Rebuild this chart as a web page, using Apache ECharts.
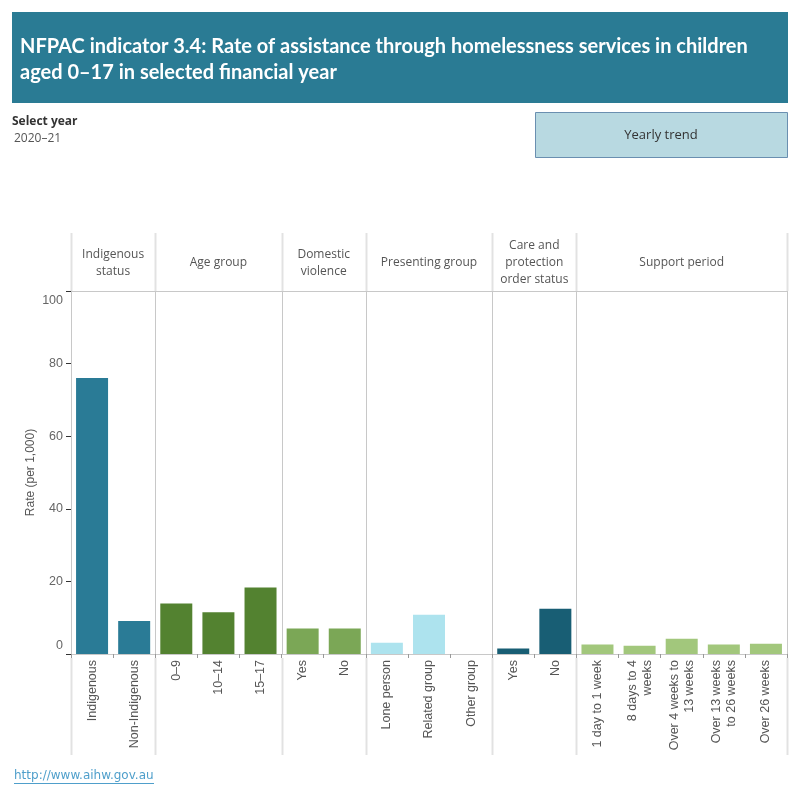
<!DOCTYPE html>
<html>
<head>
<meta charset="utf-8">
<script src="https://cdn.jsdelivr.net/npm/echarts@6/dist/echarts.min.js"></script>
<style>
  html, body { margin: 0; padding: 0; background: #fff; }
  #chart { width: 800px; height: 800px; }
</style>
</head>
<body>
<div id="chart"></div>
<script>
// group headers, categories and rates (per 1,000), 2020-21
var groupNames = ['Indigenous\nstatus', 'Age group', 'Domestic\nviolence', 'Presenting group', 'Care and\nprotection\norder status', 'Support period']
var groupColors = ['#2a7b96', '#538230', '#7ba756', '#ade3ee', '#185e74', '#a2c77c']

var indigenousCats = ['Indigenous', 'Non-Indigenous']
var indigenousVals = [76, 9.1]
var ageCats = ['0\u20139', '10\u201314', '15\u201317']
var ageVals = [13.9, 11.5, 18.3]
var dvCats = ['Yes', 'No']
var dvVals = [7.0, 7.0]
var presentingCats = ['Lone person', 'Related group', 'Other group']
var presentingVals = [3.1, 10.8, 0]
var careCats = ['Yes', 'No']
var careVals = [1.5, 12.5]
var supportCats = ['1 day to 1 week', '8 days to 4\nweeks', 'Over 4 weeks to\n13 weeks', 'Over 13 weeks\nto 26 weeks', 'Over 26 weeks']
var supportVals = [2.6, 2.3, 4.2, 2.6, 2.8]

var yTicks = [0, 20, 40, 60, 80, 100]

var groupCats = [indigenousCats, ageCats, dvCats, presentingCats, careCats, supportCats]
var groupVals = [indigenousVals, ageVals, dvVals, presentingVals, careVals, supportVals]

// layout
var plotLeft = 71, plotRight = 787, plotTop = 291, plotBottom = 654
var headTop = 233, labelBottom = 755
var total = groupCats.reduce(function (s, c) { return s + c.length }, 0)
var slot = (plotRight - plotLeft) / total
var axisFont = '"Liberation Sans", Arial, sans-serif'

var chart = echarts.init(document.getElementById('chart'))

var grids = [], xAxes = [], yAxes = [], series = [], graphics = []
var offset = 0
var edges = [plotLeft]

groupCats.forEach(function (cats, i) {
  var left = plotLeft + offset * slot
  var width = cats.length * slot
  grids.push({ left: left, width: width, top: plotTop, height: plotBottom - plotTop, containLabel: false })
  xAxes.push({
    type: 'category',
    gridIndex: i,
    data: cats,
    axisLine: { lineStyle: { color: '#c8c8c8' } },
    axisTick: { show: true, length: 4, lineStyle: { color: '#999' } },
    axisLabel: {
      rotate: 90, interval: 0, margin: 6,
      color: '#555', fontSize: 12.5, fontFamily: axisFont, lineHeight: 15
    },
    splitLine: { show: false }
  })
  yAxes.push({
    type: 'value',
    gridIndex: i,
    min: 0,
    max: 100,
    interval: 20,
    show: i === 0,
    name: i === 0 ? 'Rate (per 1,000)' : '',
    nameLocation: 'middle',
    nameRotate: 90,
    nameGap: 34,
    nameTextStyle: { color: '#555', fontSize: 12, fontFamily: axisFont },
    axisLine: { show: true, lineStyle: { color: '#c8c8c8' } },
    axisTick: { show: true, length: 5, lineStyle: { color: '#333' } },
    axisLabel: {
      margin: 8,
      color: '#666', fontSize: 12.5, fontFamily: axisFont,
      formatter: function (v) {
        if (v === yTicks[yTicks.length - 1]) return '{top|' + v + '}'
        if (v === yTicks[0]) return '{bot|' + v + '}'
        return '' + v
      },
      rich: {
        top: { padding: [20, 0, 0, 0], color: '#666', fontSize: 12.5, fontFamily: axisFont },
        bot: { padding: [0, 0, 16, 0], color: '#666', fontSize: 12.5, fontFamily: axisFont }
      }
    },
    splitLine: { show: false }
  })
  series.push({
    type: 'bar',
    xAxisIndex: i,
    yAxisIndex: i,
    data: groupVals[i],
    barWidth: 32,
    itemStyle: { color: groupColors[i] },
    silent: true
  })
  graphics.push({
    type: 'text',
    x: left + width / 2,
    y: (headTop + plotTop) / 2 + 1,
    style: {
      text: groupNames[i], align: 'center', verticalAlign: 'middle',
      fill: '#555', fontSize: 12, lineHeight: 17, fontFamily: '"Open Sans", sans-serif'
    }
  })
  offset += cats.length
  edges.push(plotLeft + offset * slot)
})

// panel dividers above and below the plot area, plus in-plot lines
edges.forEach(function (x) {
  var px = Math.round(x) + 0.5
  graphics.push({ type: 'line', shape: { x1: px, y1: headTop, x2: px, y2: plotTop }, style: { stroke: '#e2e2e2', lineWidth: 2 } })
  graphics.push({ type: 'line', shape: { x1: px, y1: plotBottom + 4, x2: px, y2: labelBottom }, style: { stroke: '#e2e2e2', lineWidth: 2 } })
  graphics.push({ type: 'line', shape: { x1: px, y1: plotTop, x2: px, y2: plotBottom }, style: { stroke: '#c8c8c8', lineWidth: 1 } })
})
graphics.push({ type: 'line', shape: { x1: plotLeft, y1: plotTop + 0.5, x2: plotRight, y2: plotTop + 0.5 }, style: { stroke: '#c8c8c8', lineWidth: 1 } })

// title banner
graphics.push({ type: 'rect', shape: { x: 12, y: 12, width: 776, height: 91 }, style: { fill: '#2a7b94' } })
graphics.push({
  type: 'text', x: 20, y: 60,
  style: {
    text: 'NFPAC indicator 3.4: Rate of assistance through homelessness services in children\naged 0\u201317 in selected financial year',
    fill: '#fff', fontSize: 20, fontWeight: 'bold', lineHeight: 26, verticalAlign: 'middle',
    fontFamily: 'Lato, sans-serif'
  }
})

// year selector and button
graphics.push({ type: 'text', x: 12, y: 122, style: { text: 'Select year', fill: '#333', fontSize: 12, fontWeight: 'bold', verticalAlign: 'middle', fontFamily: '"Open Sans", sans-serif' } })
graphics.push({ type: 'text', x: 14, y: 139, style: { text: '2020\u201321', fill: '#555', fontSize: 12, verticalAlign: 'middle', fontFamily: '"Open Sans", sans-serif' } })
graphics.push({ type: 'rect', shape: { x: 535.5, y: 112.5, width: 252, height: 45 }, style: { fill: '#b8d9e1', stroke: '#6a8fb0', lineWidth: 1 } })
graphics.push({ type: 'text', x: 661, y: 135, style: { text: 'Yearly trend', fill: '#333', fontSize: 13, align: 'center', verticalAlign: 'middle', fontFamily: '"Open Sans", sans-serif' } })

// footer link
graphics.push({ type: 'text', x: 14, y: 776, style: { text: 'http://www.aihw.gov.au', fill: '#4f9fcb', fontSize: 12, verticalAlign: 'middle', fontFamily: '"DejaVu Sans", sans-serif' } })
graphics.push({ type: 'line', shape: { x1: 14, y1: 783.5, x2: 154, y2: 783.5 }, style: { stroke: '#4f9fcb', lineWidth: 1 } })

chart.setOption({
  animation: false,
  grid: grids,
  xAxis: xAxes,
  yAxis: yAxes,
  series: series,
  graphic: graphics
})
</script>
</body>
</html>
